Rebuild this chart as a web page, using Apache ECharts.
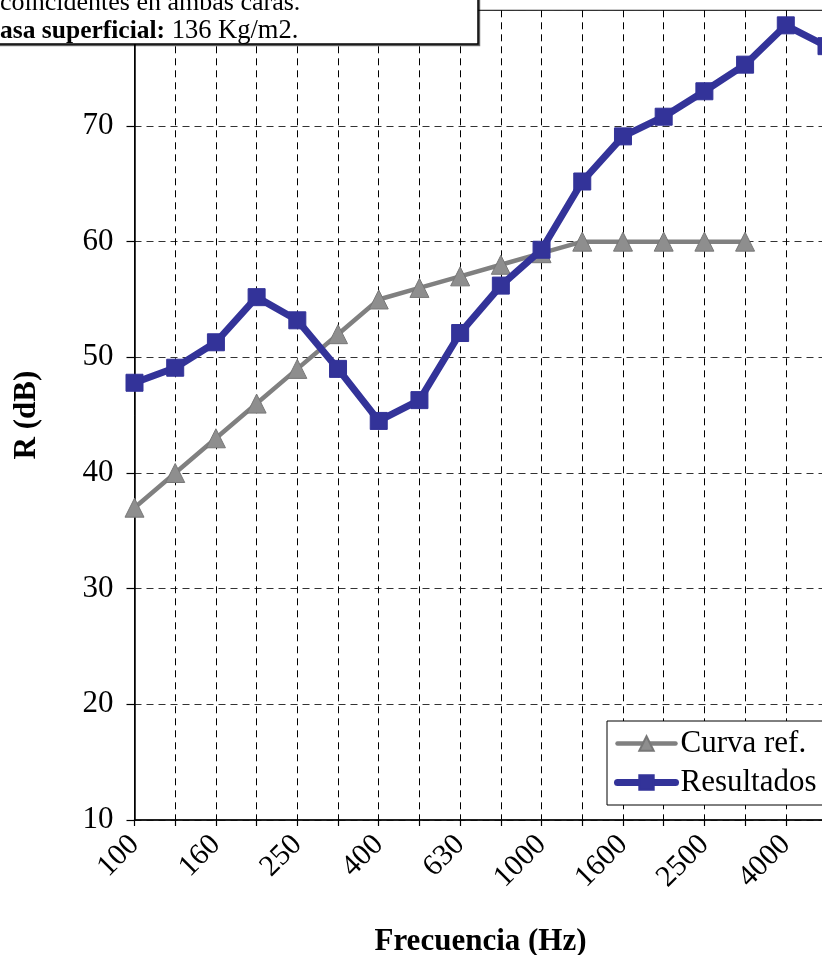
<!DOCTYPE html>
<html>
<head>
<meta charset="utf-8">
<script src="https://cdn.jsdelivr.net/npm/echarts@6/dist/echarts.min.js"></script>
<style>html,body{margin:0;padding:0;background:#fff;}#c{width:822px;height:955px;}</style>
</head>
<body>
<div id="c"></div>
<script>
var categories = ['100','125','160','200','250','315','400','500','630','800','1000','1250','1600','2000','2500','3150','4000','5000'];
var curvaRef = [37,40,43,46,49,52,55,56,57,58,59,60,60,60,60,60];
var resultados = [47.8,49.1,51.3,55.2,53.2,49.0,44.5,46.3,52.1,56.2,59.3,65.2,69.1,70.8,73.0,75.3,78.7,76.9];
var yTicks = {min:10, max:80, interval:10};
var noteLine1 = 'coincidentes en ambas caras.';
var noteLabel = 'Masa superficial:';
var noteValue = ' 136 Kg/m2.';

var serif = '"Liberation Serif", "Times New Roman", serif';
var chart = echarts.init(document.getElementById('c'), null, {renderer:'canvas'});
chart.setOption({
  animation:false,
  backgroundColor:'#fff',
  grid:{left:134.5, top:10.3, width:692, height:809.7, show:true, borderColor:'#000', borderWidth:1,
        backgroundColor:'transparent', containLabel:false, outerBoundsMode:'none'},
  xAxis:{
    type:'category', data:categories, boundaryGap:false,
    axisLine:{lineStyle:{color:'#000', width:1.5}},
    axisTick:{show:true, interval:0, length:6, lineStyle:{color:'#000', width:1.2}},
    axisLabel:{interval:1, rotate:45, margin:20, color:'#000', fontFamily:serif, fontSize:30},
    splitLine:{show:true, interval:0, lineStyle:{color:'#000', type:[7,5], width:1}},
    name:'Frecuencia (Hz)', nameLocation:'middle', nameGap:106,
    nameTextStyle:{fontFamily:serif, fontWeight:'bold', fontSize:31, color:'#000'}
  },
  yAxis:{
    type:'value', min:yTicks.min, max:yTicks.max, interval:yTicks.interval,
    axisLine:{show:true, lineStyle:{color:'#000', width:1.5}},
    axisTick:{show:true, length:8, lineStyle:{color:'#000', width:1.2}},
    axisLabel:{margin:21, color:'#000', fontFamily:serif, fontSize:31},
    splitLine:{show:true, lineStyle:{color:'#333', type:[7,5], width:1}},
    name:'R (dB)', nameLocation:'middle', nameGap:92, nameRotate:90,
    nameTextStyle:{fontFamily:serif, fontWeight:'bold', fontSize:31, color:'#000'}
  },
  legend:{
    orient:'vertical', left:607, top:721, padding:[7,12,7,7], itemGap:8,
    itemWidth:58, itemHeight:18,
    backgroundColor:'#fff', borderColor:'#000', borderWidth:1,
    textStyle:{fontFamily:serif, fontSize:31, color:'#000'},
    data:[
      {name:'Curva ref.', lineStyle:{width:4.5, color:'#808080', cap:'round'}},
      {name:'Resultados', lineStyle:{width:7, color:'#333399', cap:'round'}}
    ]
  },
  series:[
    {name:'Curva ref.', type:'line', data:curvaRef, symbol:'triangle', symbolSize:19,
     lineStyle:{color:'#808080', width:4.5},
     itemStyle:{color:'#8e8e8e', borderColor:'#777', borderWidth:1}, z:2},
    {name:'Resultados', type:'line', data:resultados, symbol:'rect', symbolSize:17,
     lineStyle:{color:'#333399', width:7},
     itemStyle:{color:'#333399', borderColor:'#333399', borderWidth:1}, z:3}
  ],
  graphic:[
    {type:'rect', z:100, shape:{x:-20, y:-20, width:498, height:64},
     style:{fill:'#fff', stroke:'#000', lineWidth:1.5, shadowColor:'rgba(0,0,0,0.5)', shadowOffsetX:1.5, shadowOffsetY:1.5, shadowBlur:0}},
    {type:'text', z:101, left:0, top:-10,
     style:{text:noteLine1, fontFamily:serif, fontSize:26, fill:'#000'}},
    {type:'text', z:101, left:-24, top:18,
     style:{text:'{b|'+noteLabel+'}{n|'+noteValue+'}', fontFamily:serif, fontSize:25.5, fill:'#000',
       rich:{b:{fontFamily:serif, fontSize:25.5, fontWeight:'bold', fill:'#000'}, n:{fontFamily:serif, fontSize:26.5, fill:'#000'}}}}
  ]
});
</script>
</body>
</html>
